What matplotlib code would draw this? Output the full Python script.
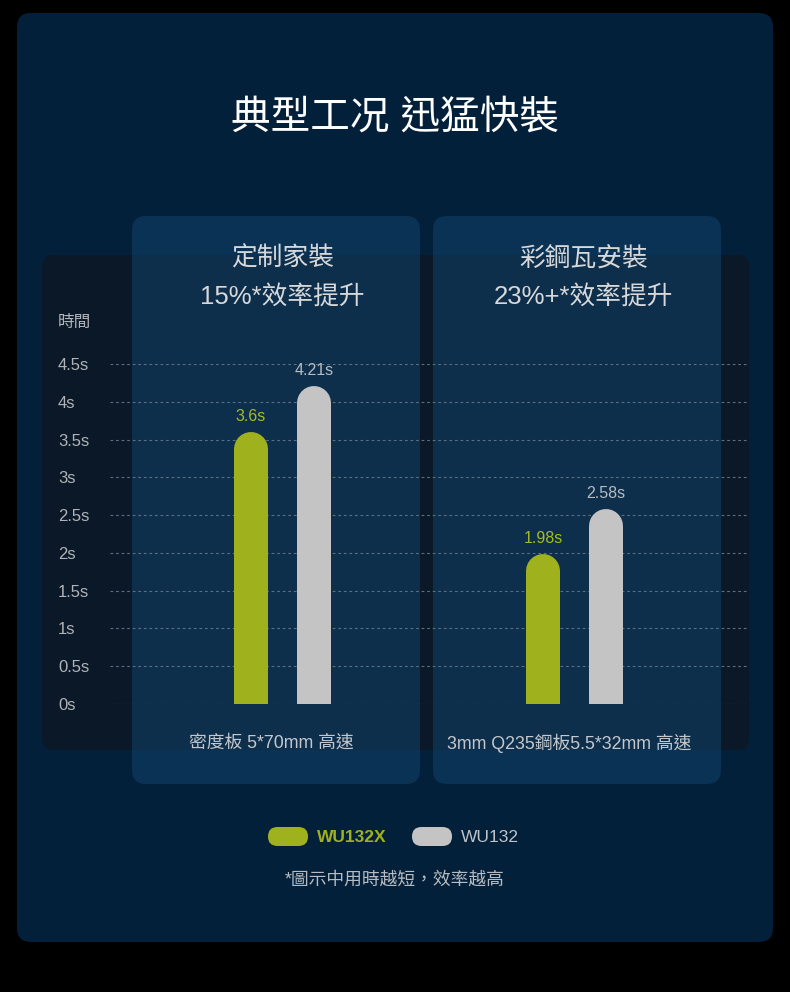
import matplotlib
import matplotlib.pyplot as plt
from matplotlib.patches import FancyBboxPatch

matplotlib.use('Agg')

plt.rcParams['font.family'] = ['Liberation Sans', 'Noto Sans CJK TC', 'DejaVu Sans']

# data
groups = ['定制家裝', '彩鋼瓦安裝']
group_gains = ['15%*效率提升', '23%+*效率提升']
group_notes = ['密度板 5*70mm 高速', '3mm Q235鋼板5.5*32mm 高速']
series_names = ['WU132X', 'WU132']
wu132x = [3.6, 1.98]
wu132 = [4.21, 2.58]
y_ticks = [0, 0.5, 1, 1.5, 2, 2.5, 3, 3.5, 4, 4.5]

GREEN = '#a0b11e'
GREY = '#c4c4c4'
W, H = 790, 992

fig = plt.figure(figsize=(W / 100, H / 100), dpi=100, facecolor='black')

# background layer in pixel units
bg = fig.add_axes([0, 0, 1, 1])
bg.set_xlim(0, W)
bg.set_ylim(H, 0)
bg.axis('off')


def rbox(x0, y0, x1, y1, r, color, alpha=1.0):
    bg.add_patch(FancyBboxPatch((x0, y0), x1 - x0, y1 - y0,
                                boxstyle=f'round,pad=0,rounding_size={r}',
                                facecolor=color, edgecolor='none', alpha=alpha))


rbox(17, 13, 773, 942, 14, '#03203a')
rbox(42, 255, 749, 750, 12, '#0b1828')
panels = [(132, 420), (433, 721)]
for x0, x1 in panels:
    rbox(x0, 216, x1, 784, 14, '#10426a', alpha=0.55)

bg.text(395, 118, '典型工况 迅猛快裝', color='white', fontsize=28.5,
        fontweight='medium', ha='center', va='center')
bg.text(58, 322, '時間', color='#b0b4b8', fontsize=12, ha='left', va='center')

title_x = [282.5, 583.5]
note_x = [271, 569]
for tx, nx, name, gain, note in zip(title_x, note_x, groups, group_gains, group_notes):
    bg.text(tx, 258, name, color='#d6d8da', fontsize=18.5, ha='center', va='center')
    bg.text(tx, 297, gain, color='#d6d8da', fontsize=18.5, ha='center', va='center')
    bg.text(nx, 743, note, color='#c4c8cc', fontsize=12.8, ha='center', va='center')

# legend
legend_items = [(268, series_names[0], GREEN, 'bold'), (412, series_names[1], GREY, 'normal')]
for lx, name, col, weight in legend_items:
    rbox(lx, 827, lx + 40, 846, 9.5, col)
    bg.text(lx + 49, 837, name, color=col if col == GREEN else '#c0c4c8', fontsize=12.5,
            fontweight=weight, ha='left', va='center')

bg.text(395, 880, '*圖示中用時越短，效率越高', color='#b8bcc0', fontsize=12.8,
        ha='center', va='center')

# chart axes: x from 110 to 749 px, y 0 at 704 px, 4.5 at 364 px
ax = fig.add_axes([110 / W, (H - 704) / H, (749 - 110) / W, (704 - 364) / H])
ax.set_facecolor('none')
for s in ax.spines.values():
    s.set_visible(False)

centers = [282.5, 574.5]
unit = 292.0
ax.set_xlim((110 - centers[0]) / unit, (749 - centers[0]) / unit)
ax.set_ylim(0, 4.5)
ax.set_xticks([])
ax.set_yticks(y_ticks)
ax.set_yticklabels([f'{t:g}s' for t in y_ticks], color='#b0b4b8', fontsize=12, ha='left')
ax.tick_params(axis='y', length=0, pad=37.4)
ax.set_axisbelow(True)
ax.grid(axis='y', color='#5d6e80', linestyle=(0, (2.5, 2.5)), linewidth=0.8, zorder=0)

offset = 31.5 / unit
bar_px = 34
cap = (bar_px / 2) * 4.5 / 340
for i in range(len(groups)):
    for vals, dx, col, lab_col in [(wu132x, -offset, GREEN, '#a8bb25'), (wu132, offset, GREY, '#b8bcc0')]:
        v = vals[i]
        x = i + dx
        ax.plot([x, x], [0, v - cap], color=col, linewidth=bar_px * 0.72,
                solid_capstyle='round', zorder=3)
        ax.annotate(f'{v:g}s', (x, v), xytext=(0, 6), textcoords='offset points',
                    ha='center', va='bottom', color=lab_col, fontsize=11.5,
                    annotation_clip=False)

fig.savefig('out.png', dpi=100, facecolor='black')
